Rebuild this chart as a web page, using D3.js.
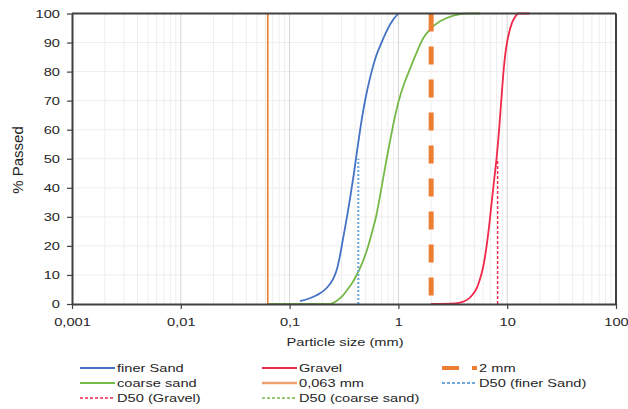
<!DOCTYPE html>
<html>
<head>
<meta charset="utf-8">
<script src="https://cdn.jsdelivr.net/npm/d3@7"></script>
<style>
  html, body { margin: 0; padding: 0; background: #fff; }
  text { font-family: "Liberation Sans", Arial, sans-serif; fill: #262626; }
</style>
</head>
<body>
<svg id="chart" width="628" height="409"></svg>
<script>
// ---- data (particle size in mm, % passed) ----
const fineSize   = [0.125, 0.177, 0.219, 0.25, 0.27, 0.29, 0.31, 0.335, 0.36, 0.39, 0.42, 0.46, 0.50, 0.55, 0.62, 0.70, 0.80, 0.90, 1.0];
const finePassed = [1.0,   3.0,   5.5,   8.5,  11.5, 16.5, 22.5, 29.5,  36.5, 45,   53.5, 63.5, 71,   78,   85,   90,   94.8, 98,   100];

const coarseSize   = [0.063, 0.235, 0.28, 0.31, 0.34, 0.38, 0.42, 0.47, 0.528, 0.58, 0.631, 0.68, 0.726, 0.78, 0.837, 0.9, 1.0,  1.12, 1.28, 1.45, 1.69, 1.95, 2.41, 3.2,  4.3, 5.6];
const coarsePassed = [0,     0,     1.5,  3,    5,    7.5,  10.5, 14.5, 20,    25.5, 31,    37.5, 43.5,  50,   56,    62,  69.5, 75.5, 81,   86,   91.5, 94.5, 97.3, 99.3, 100, 100];

const gravelSize   = [2.0, 3.0, 3.7, 4.3, 4.8, 5.25, 5.62, 6.03, 6.47, 6.9,  7.2, 7.6, 8.0,  8.3, 8.6,  8.9, 9.2, 9.6, 10.2, 11.0, 11.8, 12.65, 16.0];
const gravelPassed = [0,   0.1, 0.5, 1.5, 3.2, 5.5,  8.5,  13,   20,   28.5, 35,  43,  50.5, 57,  64.5, 72,  79,  86,  92,   96.5, 98.8, 100,   100];

const limitFine = 0.063;     // mm
const limitSand = 2;         // mm
const d50Fine   = 0.428;     // mm
const d50Gravel = 8.17;      // mm

const xTicks      = [0.001, 0.01, 0.1, 1, 10, 100];
const xTickLabels = ["0,001", "0,01", "0,1", "1", "10", "100"];
const yTicks      = [0, 10, 20, 30, 40, 50, 60, 70, 80, 90, 100];

const legendLabels = ["finer Sand", "Gravel", "2 mm", "coarse sand", "0,063 mm", "D50 (finer Sand)", "D50 (Gravel)", "D50 (coarse sand)"];

// ---- styles ----
const C = {
  fine: "#4472C4", gravel: "#F0284A", orange: "#ED7D31", coarse: "#76B947",
  d50fine: "#6FA8DC", d50gravel: "#F0284A", d50coarse: "#76B947"
};
const SX = 1.33; // horizontal text stretch

const svg = d3.select("#chart");
svg.append("rect").attr("width", 628).attr("height", 409).attr("fill", "#fff");

const x = d3.scaleLog().domain([0.001, 100]).range([72, 616]);
const y = d3.scaleLinear().domain([0, 100]).range([304, 13.5]);

// gridlines
const grid = svg.append("g");
const minors = [];
xTicks.slice(0, -1).forEach(d => { for (let k = 2; k <= 9; k++) minors.push(d * k); });
grid.selectAll("line.minor").data(minors).join("line")
  .attr("x1", d => x(d)).attr("x2", d => x(d)).attr("y1", y(0)).attr("y2", y(100))
  .attr("stroke", "#eeeeee").attr("stroke-width", 1);
grid.selectAll("line.hy").data(yTicks.slice(1, -1)).join("line")
  .attr("x1", x(0.001)).attr("x2", x(100)).attr("y1", d => y(d)).attr("y2", d => y(d))
  .attr("stroke", "#eeeeee").attr("stroke-width", 1);
grid.selectAll("line.major").data(xTicks.slice(1, -1)).join("line")
  .attr("x1", d => x(d)).attr("x2", d => x(d)).attr("y1", y(0)).attr("y2", y(100))
  .attr("stroke", "#d4d4d4").attr("stroke-width", 1);

// series
const line = d3.line().x(d => x(d[0])).y(d => y(d[1])).curve(d3.curveMonotoneX);
const plot = svg.append("g");

plot.append("path").datum(coarseSize.map((s, i) => [s, coarsePassed[i]]))
  .attr("d", line).attr("fill", "none").attr("stroke", C.coarse).attr("stroke-width", 1.8);
plot.append("path").datum(fineSize.map((s, i) => [s, finePassed[i]]))
  .attr("d", line).attr("fill", "none").attr("stroke", C.fine).attr("stroke-width", 1.8);
plot.append("path").datum(gravelSize.map((s, i) => [s, gravelPassed[i]]))
  .attr("d", line).attr("fill", "none").attr("stroke", C.gravel).attr("stroke-width", 1.8);

// vertical reference lines
plot.append("line").attr("x1", x(limitFine)).attr("x2", x(limitFine)).attr("y1", y(0)).attr("y2", y(100))
  .attr("stroke", C.orange).attr("stroke-width", 1.6);
plot.append("line").attr("x1", x(limitSand)).attr("x2", x(limitSand)).attr("y1", y(100)).attr("y2", y(0))
  .attr("stroke", C.orange).attr("stroke-width", 5).attr("stroke-dasharray", "18,15");
plot.append("line").attr("x1", x(d50Fine)).attr("x2", x(d50Fine)).attr("y1", y(0)).attr("y2", y(50))
  .attr("stroke", C.d50fine).attr("stroke-width", 2.2).attr("stroke-dasharray", "2,2");
plot.append("line").attr("x1", x(d50Gravel)).attr("x2", x(d50Gravel)).attr("y1", y(0)).attr("y2", y(50))
  .attr("stroke", C.d50gravel).attr("stroke-width", 1.4).attr("stroke-dasharray", "3,2");

// frame
svg.append("line").attr("x1", x(0.001)).attr("x2", x(100)).attr("y1", y(100)).attr("y2", y(100))
  .attr("stroke", "#404040").attr("stroke-width", 2);
svg.append("line").attr("x1", x(100)).attr("x2", x(100)).attr("y1", y(100)).attr("y2", y(0))
  .attr("stroke", "#404040").attr("stroke-width", 2);

// axes
const xAxis = d3.axisBottom(x).tickValues(xTicks).tickFormat((d, i) => xTickLabels[i]).tickSize(5).tickSizeOuter(0);
const gx = svg.append("g").attr("transform", `translate(0,${y(0)})`).call(xAxis);
gx.select(".domain").attr("stroke", "#404040").attr("stroke-width", 2);
gx.selectAll(".tick line").attr("stroke", "#404040").attr("stroke-width", 1.2);
gx.selectAll(".tick text").attr("y", 14).attr("dy", "0.71em")
  .attr("transform", `scale(${SX},1)`).style("font-size", "11px").attr("fill", "#262626");

const yAxis = d3.axisLeft(y).tickValues(yTicks).tickSize(5).tickSizeOuter(0);
const gy = svg.append("g").attr("transform", `translate(${x(0.001)},0)`).call(yAxis);
gy.select(".domain").attr("stroke", "#404040").attr("stroke-width", 2);
gy.selectAll(".tick line").attr("stroke", "#404040").attr("stroke-width", 1.2);
gy.selectAll(".tick text").attr("x", -12 / SX)
  .attr("transform", `scale(${SX},1)`).style("font-size", "11px").attr("fill", "#262626");
svg.selectAll(".domain").attr("fill", "none");
gx.attr("font-family", null); gy.attr("font-family", null);

// titles
svg.append("text").attr("transform", `translate(345,346) scale(${SX},1)`)
  .attr("text-anchor", "middle").style("font-size", "11px").text("Particle size (mm)");
svg.append("text").attr("transform", "translate(23,160) rotate(-90)")
  .attr("text-anchor", "middle").style("font-size", "15px").text("% Passed");

// legend
const legendStyle = [
  { c: C.fine, w: 2, dash: null },
  { c: C.gravel, w: 2, dash: null },
  { c: C.orange, w: 4, dash: "17,13" },
  { c: C.coarse, w: 2, dash: null },
  { c: "#F0A070", w: 2.5, dash: null },
  { c: C.d50fine, w: 2, dash: "3,2" },
  { c: C.d50gravel, w: 1.6, dash: "3,2" },
  { c: C.d50coarse, w: 1.6, dash: "3,2" }
];
const colX = [80, 262, 442];
const rowY = [368, 383, 398];
const lg = svg.append("g");
legendLabels.forEach((lab, i) => {
  const cx = colX[i % 3], cy = rowY[Math.floor(i / 3)];
  const st = legendStyle[i];
  lg.append("line").attr("x1", cx).attr("x2", cx + 35).attr("y1", cy).attr("y2", cy)
    .attr("stroke", st.c).attr("stroke-width", st.w).attr("stroke-dasharray", st.dash);
  lg.append("text").attr("transform", `translate(${cx + 37},${cy + 4}) scale(${SX},1)`)
    .style("font-size", "11px").text(lab);
});
</script>
</body>
</html>
